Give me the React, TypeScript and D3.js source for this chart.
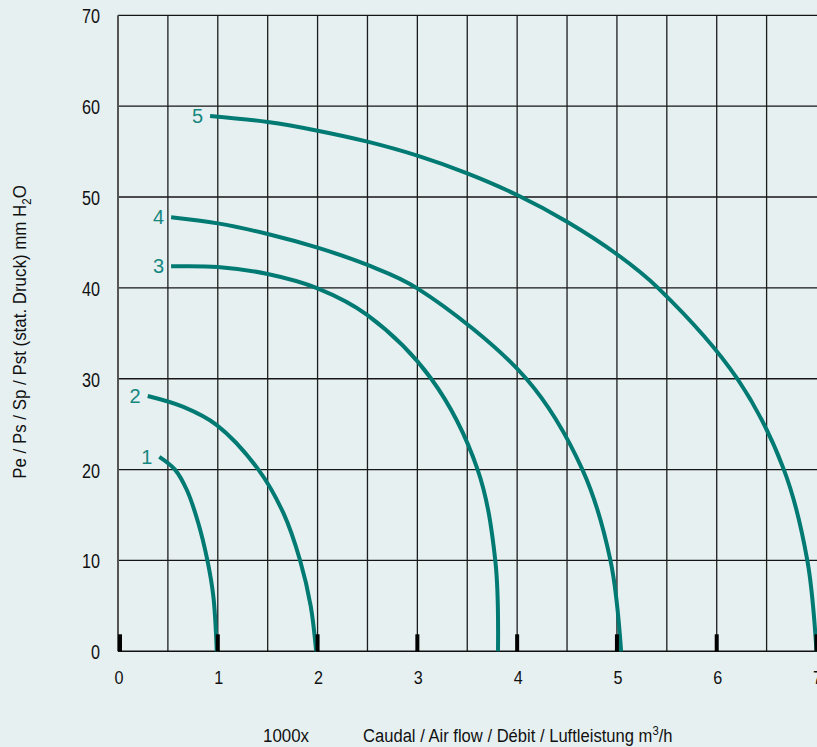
import React from "react";
import * as d3 from "d3";

const W = 817;
const H = 747;

const xTicks = [0, 1, 2, 3, 4, 5, 6, 7];
const yTicks = [0, 10, 20, 30, 40, 50, 60, 70];
const xGrid = [0.5, 1, 1.5, 2, 2.5, 3, 3.5, 4, 4.5, 5, 5.5, 6, 6.5];

const curveNames = ["1", "2", "3", "4", "5"];

const curve1: [number, number][] = [
  [0.414, 21.4], [0.571, 20], [0.69, 17.75], [0.805, 14.1], [0.896, 10], [0.956, 6.0], [0.99, 0],
];
const curve2: [number, number][] = [
  [0.298, 28.1], [0.655, 26.9], [0.99, 24.9], [1.407, 20], [1.658, 15.2], [1.825, 10], [1.931, 5], [1.986, 0],
];
const curve3: [number, number][] = [
  [0.532, 42.37], [1.0, 42.3], [1.5, 41.53], [2.0, 39.95], [2.5, 37.0], [3.139, 30], [3.604, 20],
  [3.781, 10], [3.808, 0],
];
const curve4: [number, number][] = [
  [0.532, 47.77], [1.0, 47.1], [1.5, 45.93], [2.0, 44.42], [2.5, 42.52], [3.0, 39.95], [4.092, 30],
  [4.654, 20], [4.935, 10], [5.042, 0],
];
const curve5: [number, number][] = [
  [0.923, 58.92], [1.5, 58.25], [2.0, 57.3], [2.5, 56.09], [3.0, 54.55], [3.5, 52.6], [4.0, 50.22],
  [4.5, 47.28], [5.0, 43.7], [5.411, 40], [6.206, 30], [6.673, 20], [6.908, 10], [7.0, 0],
];
const curves = [curve1, curve2, curve3, curve4, curve5];

const BG = "#e6f0f1";
const TEAL = "#007a72";
const LABEL_TEAL = "#16877e";
const FONT = "'Liberation Sans', Arial, sans-serif";

export default function App() {
  const x = d3.scaleLinear().domain([0, 7]).range([118, 816.5]);
  const y = d3.scaleLinear().domain([0, 70]).range([651.3, 15.3]);
  const line = d3
    .line<[number, number]>()
    .x((d) => x(d[0]))
    .y((d) => y(d[1]))
    .curve(d3.curveCatmullRom.alpha(0.5));

  return (
    <svg
      width={W}
      height={H}
      style={{ position: "absolute", left: 0, top: 0, display: "block" }}
      fontFamily={FONT}
    >
      <rect x={0} y={0} width={W} height={H} fill={BG} />
      {/* horizontal grid */}
      {yTicks.slice(1).map((t) => (
        <line key={"h" + t} x1={x(0)} x2={W} y1={y(t)} y2={y(t)} stroke="#151515" strokeWidth={1.3} />
      ))}
      {/* vertical grid */}
      {xGrid.map((t) => (
        <line key={"v" + t} x1={x(t)} x2={x(t)} y1={y(70)} y2={y(0)} stroke="#1c1c1c" strokeWidth={1.3} />
      ))}
      {/* left axis */}
      <line x1={x(0)} x2={x(0)} y1={y(70)} y2={y(0)} stroke="#555" strokeWidth={2} />
      {/* bottom axis */}
      <line x1={x(0)} x2={W} y1={y(0)} y2={y(0)} stroke="#111" strokeWidth={1.5} />
      {/* curves */}
      {curves.map((c, i) => (
        <path key={"c" + i} d={line(c) || ""} fill="none" stroke={TEAL} strokeWidth={4} strokeLinecap="butt" />
      ))}
      {/* thick tick marks */}
      {xTicks.map((t) => (
        <rect key={"t" + t} x={Math.max(x(t) - 2, x(0))} y={y(0) - 17} width={4} height={17} fill="#000" />
      ))}
      {/* x tick labels */}
      {xTicks.map((t) => (
        <text
          key={"xl" + t}
          x={x(t) + 1}
          y={y(0) + 33}
          textAnchor="middle"
          fontSize={19}
          fill="#111"
          textLength={String(t).length * 9}
          lengthAdjust="spacingAndGlyphs"
        >
          {t}
        </text>
      ))}
      {/* y tick labels */}
      {yTicks.map((t) => (
        <text
          key={"yl" + t}
          x={100}
          y={y(t) + 8}
          textAnchor="end"
          fontSize={20}
          fill="#111"
          textLength={String(t).length * 9}
          lengthAdjust="spacingAndGlyphs"
        >
          {t}
        </text>
      ))}
      {/* curve labels */}
      {curves.map((c, i) => (
        <text
          key={"n" + i}
          x={x(c[0][0]) - 7}
          y={y(c[0][1]) + 7}
          textAnchor="end"
          fontSize={20}
          fill={LABEL_TEAL}
        >
          {curveNames[i]}
        </text>
      ))}
      {/* x title */}
      <g transform="translate(263,742) scale(0.89,1)">
        <text x={0} y={0} fontSize={19} fill="#111">1000x</text>
      </g>
      <g transform="translate(363,742) scale(0.873,1)">
        <text x={0} y={0} fontSize={19} fill="#111">
          Caudal / Air flow / Débit / Luftleistung m
          <tspan dy={-7} fontSize={13}>3</tspan>
          <tspan dy={7}>/h</tspan>
        </text>
      </g>
      {/* y title */}
      <g transform="translate(26,332) rotate(-90) scale(0.89,1)">
        <text x={0} y={0} textAnchor="middle" fontSize={19} fill="#111">
          Pe / Ps / Sp / Pst (stat. Druck) mm H
          <tspan dy={5} fontSize={13}>2</tspan>
          <tspan dy={-5}>O</tspan>
        </text>
      </g>
    </svg>
  );
}
